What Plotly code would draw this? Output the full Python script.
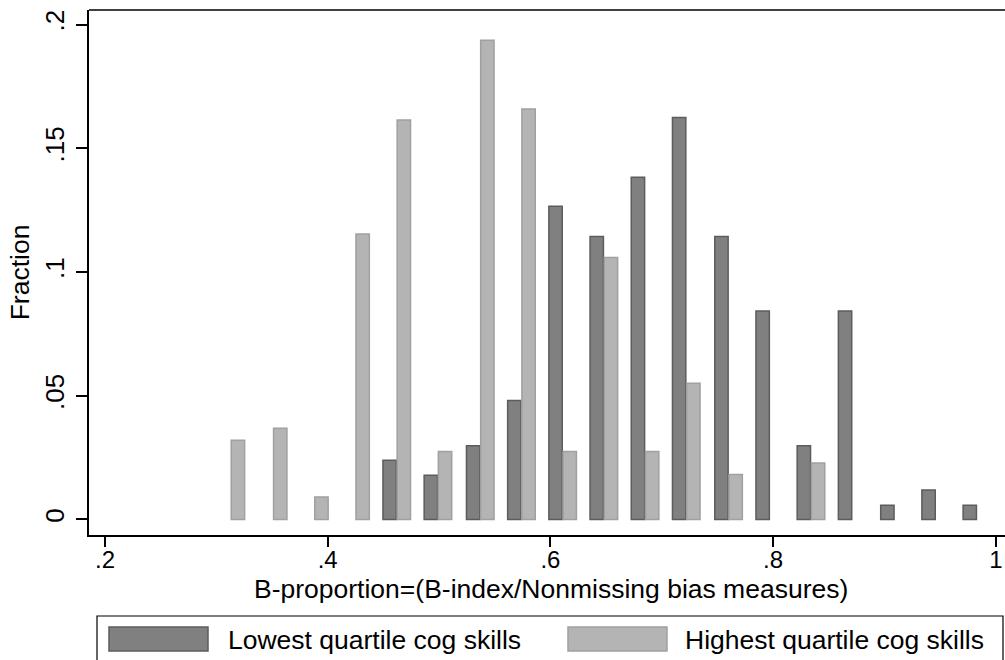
import plotly.graph_objects as go

# Bin centres of the B-proportion histogram
bin_centers = [0.313, 0.351, 0.388, 0.425, 0.462, 0.499, 0.537, 0.574, 0.611, 0.648,
               0.685, 0.722, 0.760, 0.797, 0.834, 0.871, 0.909, 0.946, 0.983]

# Fraction per bin
lowest_quartile = [None, None, None, None, 0.0239, 0.0178, 0.0298, 0.0481, 0.1266, 0.1144,
                   0.1383, 0.1625, 0.1144, 0.0842, 0.0298, 0.0842, 0.0057, 0.0119, 0.0057]
highest_quartile = [0.0320, 0.0368, 0.0091, 0.1154, 0.1614, 0.0275, 0.1937, 0.1659, 0.0275, 0.1059,
                    0.0275, 0.0550, 0.0182, None, 0.0228, None, None, None, None]

series_names = ["Lowest quartile cog skills", "Highest quartile cog skills"]

x_tick_vals = [0.2, 0.4, 0.6, 0.8, 1.0]
x_tick_text = [".2", ".4", ".6", ".8", "1"]
y_tick_vals = [0, 0.05, 0.1, 0.15, 0.2]
y_tick_text = ["0", ".05", ".1", ".15", ".2"]

x_title = "B-proportion=(B-index/Nonmissing bias measures)"
y_title = "Fraction"

FONT = "Liberation Sans, Arial, sans-serif"
DARK_FILL, DARK_LINE = "#808080", "#5c5c5c"
LIGHT_FILL, LIGHT_LINE = "#b4b4b4", "#a0a0a0"
XTICK_SIZE, YTICK_SIZE, TITLE_SIZE = 24, 26, 26.5

fig = go.Figure()
fig.add_trace(go.Bar(x=bin_centers, y=lowest_quartile, name=series_names[0],
                     marker=dict(color=DARK_FILL, line=dict(color=DARK_LINE, width=1.5)),
                     showlegend=False))
fig.add_trace(go.Bar(x=bin_centers, y=highest_quartile, name=series_names[1],
                     marker=dict(color=LIGHT_FILL, line=dict(color=LIGHT_LINE, width=1.5)),
                     showlegend=False))

W, H = 1005, 660
ml, mr, mt, mb = 89, 0, 10, 125

fig.update_layout(
    width=W, height=H,
    margin=dict(l=ml, r=mr, t=mt, b=mb),
    paper_bgcolor="white", plot_bgcolor="white",
    barmode="group", bargap=0.31, bargroupgap=0.06,
    font=dict(family=FONT, size=YTICK_SIZE, color="black"),
    xaxis=dict(range=[0.18563, 1.00826], tickvals=x_tick_vals, ticktext=x_tick_text,
               ticks="outside", ticklen=10, tickwidth=1.5, tickcolor="black",
               ticklabelstandoff=-8,
               showline=True, linecolor="black", linewidth=2, showgrid=False, zeroline=False,
               tickfont=dict(size=XTICK_SIZE)),
    yaxis=dict(range=[-0.0063, 0.2059], tickvals=y_tick_vals, ticktext=y_tick_text,
               ticks="outside", ticklen=11, tickwidth=1.5, tickcolor="black", tickangle=-90,
               ticklabelstandoff=2,
               showline=True, linecolor="black", linewidth=2, showgrid=False, zeroline=False,
               tickfont=dict(size=YTICK_SIZE),
               title=dict(text=y_title, font=dict(size=TITLE_SIZE), standoff=2)),
)

# top frame line
fig.add_shape(type="line", xref="paper", yref="paper", x0=0, x1=1, y0=1, y1=1,
              line=dict(color="#404040", width=2))

ph = H - mt - mb
pw = W - ml - mr
def px_x(p):
    return (p - ml) / pw
def px_y(p):
    return (H - mb - p) / ph

# x-axis title
fig.add_annotation(xref="paper", yref="paper", x=px_x(551), y=px_y(589),
                   text=x_title, showarrow=False, xanchor="center", yanchor="middle",
                   font=dict(size=TITLE_SIZE, family=FONT, color="black"))

# Legend drawn as a box with swatches
fig.add_shape(type="rect", xref="paper", yref="paper",
              x0=px_x(97), x1=px_x(1003), y0=px_y(616), y1=px_y(668),
              line=dict(color="black", width=1.2), fillcolor="white", layer="below")
swatches = [(109, 208, DARK_FILL, DARK_LINE), (568, 667, LIGHT_FILL, LIGHT_LINE)]
text_x = [226, 683]
for (sx0, sx1, fc, lc), tx, name in zip(swatches, text_x, series_names):
    fig.add_shape(type="rect", xref="paper", yref="paper",
                  x0=px_x(sx0), x1=px_x(sx1), y0=px_y(627), y1=px_y(651),
                  line=dict(color=lc, width=1.5), fillcolor=fc)
    fig.add_annotation(xref="paper", yref="paper", x=px_x(tx), y=px_y(640),
                       text=name, showarrow=False, xanchor="left", yanchor="middle",
                       font=dict(size=TITLE_SIZE, family=FONT, color="black"))

fig.write_html("out.html")
